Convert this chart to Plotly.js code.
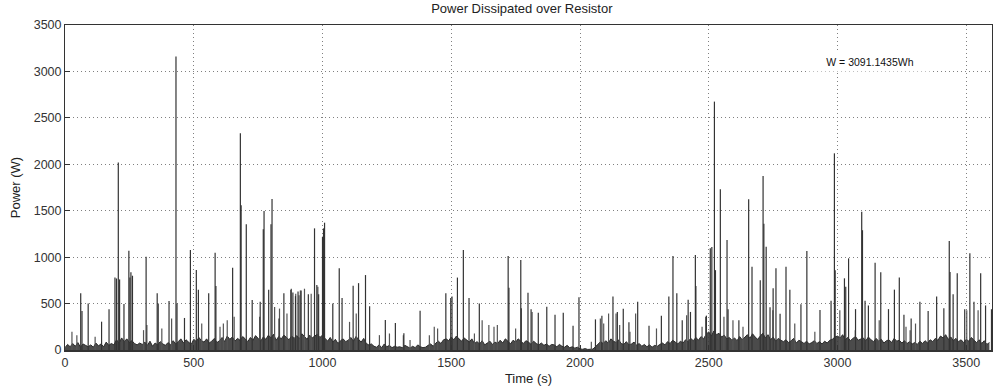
<!DOCTYPE html>
<html>
<head>
<meta charset="utf-8">
<script src="https://cdn.plot.ly/plotly-3.0.1.min.js"></script>
<style>body{margin:0;background:#fff}#chart{width:994px;height:387px}</style>
</head>
<body>
<div id="chart"></div>
<script>
// Dense low-level "grass" of the power signal, sampled every 10 s (W)
const grassStep = 10;
const grassP = [
 25,60,35,70,40,80,30,65,50,35,
 55,30,75,45,65,35,85,50,70,55,
 110,75,130,90,120,80,100,70,55,75,
 60,85,50,95,40,75,55,90,65,50,
 80,55,100,65,90,120,75,110,85,60,
 115,90,135,100,85,120,75,95,125,80,
 100,135,90,150,115,140,95,125,105,145,
 120,90,135,105,155,125,95,140,115,160,
 130,170,105,145,120,160,135,110,150,125,
 155,120,175,140,115,160,130,150,170,135,
 160,125,95,135,85,115,70,100,120,90,
 105,135,95,145,120,85,125,70,55,65,
 40,30,55,25,65,35,50,25,40,30,
 35,25,50,30,20,40,25,55,35,25,
 30,50,65,40,75,95,70,110,120,100,
 140,110,150,120,95,130,105,85,120,70,
 90,65,100,55,75,95,60,85,70,105,
 75,120,95,65,105,85,120,90,70,100,
 85,60,95,70,55,75,50,65,40,60,
 55,35,60,40,30,50,25,35,20,30,
 12,8,15,6,12,10,35,65,90,70,
 100,75,120,95,80,110,70,60,90,55,
 65,85,50,70,40,60,35,55,30,50,
 40,60,75,55,90,70,105,85,65,95,
 75,110,90,125,100,135,105,145,120,170,
 195,150,205,165,180,140,160,120,135,105,
 130,100,145,110,135,165,125,175,140,115,
 150,180,130,165,110,140,95,125,105,90,
 110,80,100,125,75,105,90,70,95,65,
 80,100,70,90,65,95,75,105,115,140,
 150,130,165,110,135,100,125,145,105,115,
 130,100,140,110,90,125,95,115,75,100,
 110,80,125,95,105,75,100,70,90,65,
 80,60,95,70,100,75,110,90,125,105,
 150,130,165,115,140,100,125,90,110,80,
 115,95,135,105,80,110,70,100,60,80
];

// Major power spikes: time (s) and peak power (W)
const spikeT = [61,66,90,142,171,194,200,207,212,229,248,252,256,262,315,358,362,404,431,435,
 464,487,510,518,558,583,586,651,681,684,704,727,758,770,773,791,800,804,831,850,
 877,885,895,905,917,945,969,978,985,1000,1004,1008,1040,1065,1076,1119,1140,1167,1183,1244,
 1283,1316,1379,1479,1498,1503,1524,1547,1569,1609,1721,1724,1770,1772,1798,1810,1838,1871,1903,1935,
 1973,1996,2060,2085,2128,2145,2168,2190,2224,2268,2316,2345,2361,2376,2397,2420,2429,2448,2450,2491,
 2506,2512,2522,2526,2545,2571,2575,2617,2655,2668,2700,2711,2714,2723,2738,2750,2761,2777,2800,2815,
 2858,2881,2932,2975,2988,2991,3027,3032,3043,3070,3094,3097,3107,3120,3146,3168,3198,3221,3240,3258,
 3286,3320,3352,3385,3413,3434,3437,3449,3465,3494,3514,3530,3556,3575,3598];
const spikeP = [610,420,500,305,440,780,770,2020,760,495,1070,780,837,800,1005,610,500,528,3160,500,
 345,1077,862,650,610,1048,690,887,2334,1560,1354,538,520,1300,1497,650,1354,1626,340,610,
 650,620,580,630,640,600,1310,700,600,1220,1310,1371,500,880,560,693,720,807,470,323,
 290,180,423,610,560,575,780,1077,560,500,1012,670,969,450,617,440,400,466,380,400,
 260,567,330,370,575,410,445,300,520,260,370,575,1012,610,320,540,410,1023,690,370,
 1095,1110,2675,860,1730,1185,440,320,1623,897,750,1874,1360,1113,460,665,880,390,897,650,
 492,1066,430,530,2118,860,772,680,987,440,1490,1290,530,480,940,837,440,650,780,380,
 340,520,420,575,450,1174,840,600,826,440,1041,520,826,480,440];

// Minor power spikes: time (s) and peak power (W)
const minorT = [27,46,117,305,318,376,414,531,602,615,630,657,756,814,833,862,879,896,909,914,
 930,956,982,1105,1131,1221,1260,1314,1340,1415,1434,1447,1590,1620,1646,1666,1679,1750,1814,2044,
 2079,2092,2111,2140,2154,2194,2216,2297,2414,2474,2488,2559,2594,2633,2749,2834,2912,3009,3069,3162,
 3266,3282,3303,3502,3546];
const minorP = [196,160,143,214,268,232,340,285,250,285,321,357,357,464,446,393,660,607,590,640,
 660,607,680,303,393,160,178,160,107,160,250,232,178,321,268,250,268,232,410,90,
 340,285,393,393,268,196,393,232,375,250,357,357,321,250,428,285,196,428,214,321,
 250,214,285,428,428];

const annotText = "W = 3091.1435Wh";
const titleText = "Power Dissipated over Resistor";
const xTitle = "Time (s)";
const yTitle = "Power (W)";

const grassT = grassP.map((_, i) => i * grassStep);
function stems(ts, ps) {
  const x = [], y = [];
  ts.forEach((t, i) => { x.push(t, t, null); y.push(0, ps[i], null); });
  return {x, y};
}
const major = stems(spikeT, spikeP);
const minor = stems(minorT, minorP);

const traces = [
  {x: grassT, y: grassP, type: 'scatter', mode: 'lines', fill: 'tozeroy',
   fillcolor: 'rgba(55,55,55,0.9)', line: {color: '#2a2a2a', width: 1}, hoverinfo: 'skip'},
  {x: minor.x, y: minor.y, type: 'scatter', mode: 'lines', line: {color: '#555', width: 1.2}, hoverinfo: 'skip'},
  {x: major.x, y: major.y, type: 'scatter', mode: 'lines', line: {color: '#333', width: 1.2}, hoverinfo: 'skip'}
];

const fontFam = 'Liberation Sans, Arial, sans-serif';
const axisCommon = {
  showline: true, linecolor: '#333', linewidth: 1, mirror: true,
  ticks: 'inside', ticklen: 5, tickcolor: '#333',
  showgrid: true, gridcolor: '#808080', griddash: '1px,3px', gridwidth: 1,
  zeroline: false, tickfont: {family: fontFam, size: 12.5, color: '#333'}
};

const layout = {
  width: 994, height: 387,
  margin: {l: 65, r: 2, t: 25, b: 37},
  paper_bgcolor: '#fff', plot_bgcolor: '#fff',
  showlegend: false,
  title: {text: titleText, x: 0.525, xanchor: 'center', y: 0.99, yanchor: 'top',
          font: {family: fontFam, size: 13, color: '#222'}},
  xaxis: Object.assign({}, axisCommon, {range: [0, 3600], tickvals: [0,500,1000,1500,2000,2500,3000,3500],
    linewidth: 1.5,
    title: {text: xTitle, standoff: 5, font: {family: fontFam, size: 13, color: '#222'}}}),
  yaxis: Object.assign({}, axisCommon, {range: [0, 3500], tickvals: [0,500,1000,1500,2000,2500,3000,3500],
    title: {text: yTitle, standoff: 10, font: {family: fontFam, size: 13, color: '#222'}}}),
  annotations: [{x: 3128, y: 3105, xref: 'x', yref: 'y', text: annotText, showarrow: false,
    bgcolor: '#fff', borderpad: 3, font: {family: fontFam, size: 10.5, color: '#111'},
    width: 118}]
};

Plotly.newPlot('chart', traces, layout, {staticPlot: true, displayModeBar: false});
</script>
</body>
</html>
